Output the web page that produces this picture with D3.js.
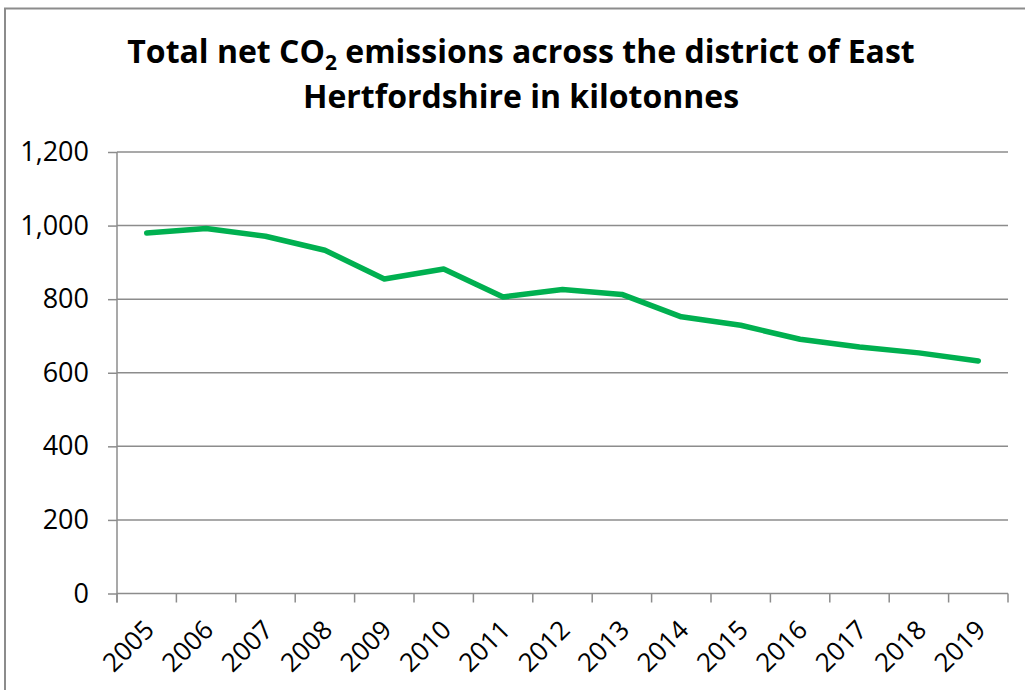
<!DOCTYPE html>
<html>
<head>
<meta charset="utf-8">
<script src="https://cdn.jsdelivr.net/npm/d3@7"></script>
<style>
  html, body { margin: 0; padding: 0; background: #fff; }
  svg { display: block; font-family: "Open Sans", "Noto Sans", sans-serif; }
</style>
</head>
<body>
<svg id="chart" width="1025" height="690"></svg>
<script>
const years = ["2005","2006","2007","2008","2009","2010","2011","2012","2013","2014","2015","2016","2017","2018","2019"];
const emissions = [980, 992, 971, 933, 855, 882, 806, 826, 813, 752, 729, 691, 670, 654, 632];
const yTicks = [0, 200, 400, 600, 800, 1000, 1200];
const titleLine1 = ["Total net CO", "2", " emissions across the district of East"];
const titleLine2 = "Hertfordshire in kilotonnes";

const svg = d3.select("#chart");
const W = 1025, H = 690;
const plot = { left: 117, right: 1008, top: 152, bottom: 593.5 };

// chart border (only top and left visible)
svg.append("path")
  .attr("d", `M5,${H} L5,8.5 L${W},8.5`)
  .attr("fill", "none")
  .attr("stroke", "#8c8c8c")
  .attr("stroke-width", 2);

// title
const title = svg.append("text")
  .attr("text-anchor", "middle")
  .attr("font-weight", 700)
  .attr("font-size", 32)
  .attr("fill", "#000");
const t1 = title.append("tspan").attr("x", 521).attr("y", 63);
t1.append("tspan").text(titleLine1[0]);
t1.append("tspan").attr("font-size", 21).attr("dy", 7).text(titleLine1[1]);
t1.append("tspan").attr("dy", -7).text(titleLine1[2]);
title.append("tspan").attr("x", 521).attr("y", 108).text(titleLine2);

const x = d3.scaleBand().domain(years).range([plot.left, plot.right]).padding(0);
const y = d3.scaleLinear().domain([0, 1200]).range([plot.bottom, plot.top]);

// gridlines + y axis
const yAxis = d3.axisLeft(y).tickValues(yTicks).tickSize(9).tickPadding(19)
  .tickFormat(d3.format(","));
const gy = svg.append("g").attr("transform", `translate(${plot.left},0)`).call(yAxis);
gy.select(".domain").remove();
gy.selectAll(".tick line").attr("stroke", "#8c8c8c").attr("stroke-width", 1.5);
gy.selectAll(".tick text").attr("font-size", 27).attr("fill", "#000")
  .attr("font-family", "'Open Sans', sans-serif");

svg.append("g").selectAll("line").data(yTicks).join("line")
  .attr("x1", plot.left).attr("x2", plot.right)
  .attr("y1", d => y(d)).attr("y2", d => y(d))
  .attr("stroke", "#8c8c8c").attr("stroke-width", 1.5);

// y axis line
svg.append("line")
  .attr("x1", plot.left).attr("x2", plot.left)
  .attr("y1", plot.top).attr("y2", plot.bottom + 9)
  .attr("stroke", "#8c8c8c").attr("stroke-width", 1.5);

// x axis ticks at band boundaries
const bounds = years.map(d => x(d)).concat([plot.right]);
svg.append("g").selectAll("line").data(bounds).join("line")
  .attr("x1", d => d).attr("x2", d => d)
  .attr("y1", plot.bottom).attr("y2", plot.bottom + 9)
  .attr("stroke", "#8c8c8c").attr("stroke-width", 1.5);

// x labels rotated
svg.append("g").selectAll("text").data(years).join("text")
  .attr("transform", d => `translate(${x(d) + x.bandwidth() / 2 + 9},${plot.bottom + 38}) rotate(-45)`)
  .attr("text-anchor", "end")
  .attr("font-size", 26)
  .attr("fill", "#000")
  .text(d => d);

// line
const line = d3.line()
  .x((d, i) => x(years[i]) + x.bandwidth() / 2)
  .y(d => y(d));
svg.append("path")
  .datum(emissions)
  .attr("d", line)
  .attr("fill", "none")
  .attr("stroke", "#00B050")
  .attr("stroke-width", 5.5)
  .attr("stroke-linejoin", "round")
  .attr("stroke-linecap", "round");
</script>
</body>
</html>
